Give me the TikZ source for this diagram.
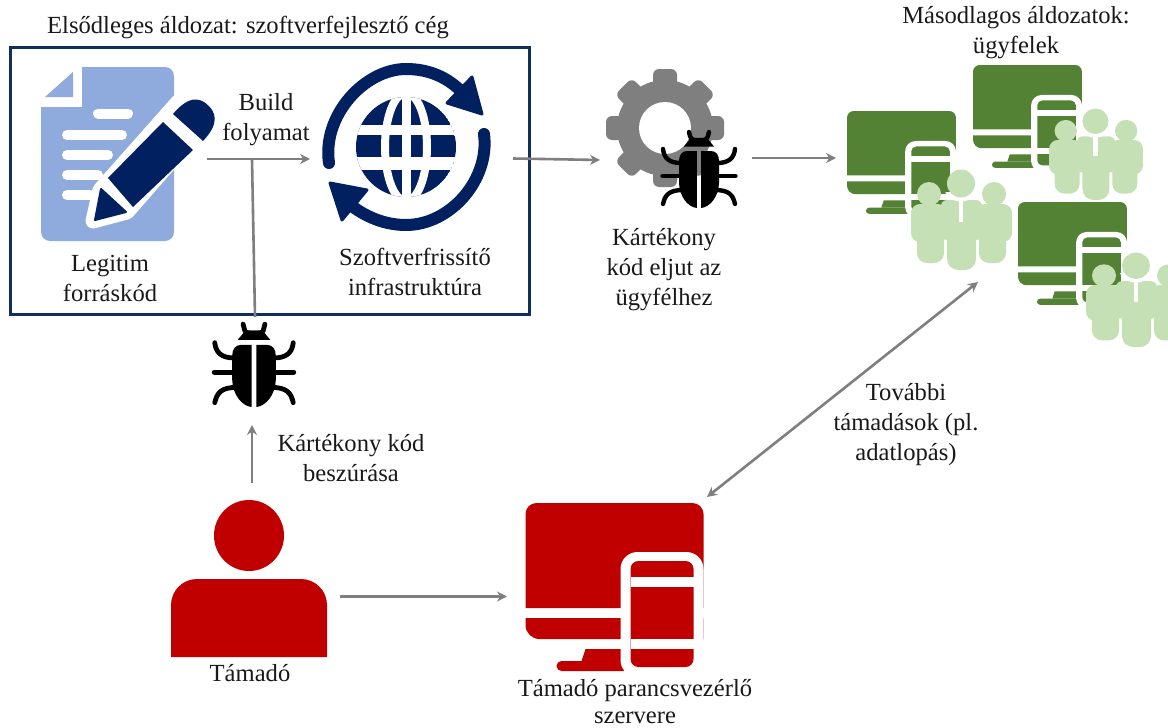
\documentclass[tikz,border=0pt]{standalone}
\usepackage{fontspec}
\setmainfont{Liberation Serif}
\usetikzlibrary{arrows.meta}
\definecolor{navy}{HTML}{0F2F60}
\definecolor{docblue}{HTML}{8FAADC}
\definecolor{dgreen}{HTML}{548235}
\definecolor{lgreen}{HTML}{C5E0B4}
\definecolor{atkred}{HTML}{C00000}
\definecolor{linegray}{HTML}{7F7F7F}
\definecolor{iconnavy}{HTML}{002060}
\tikzset{
  lbl/.style={align=center,inner sep=0pt,font=\fontsize{24.6}{30}\selectfont,text=black!90},
  conn/.style={draw=linegray,line width=2.6pt},
  arrowconn/.style={conn,-{Stealth[length=10pt,width=10pt]}},
  biconn/.style={conn,{Stealth[length=10pt,width=10pt]}-{Stealth[length=10pt,width=10pt]}}
}
\newcommand\monitorIcon[4]{%
\begin{scope}[shift={(#1,#2)},scale=#3]
 \fill[#4] (0,105) [rounded corners=#3*11pt] -- (0,0) -- (178,0) [sharp corners] -- (178,105) -- cycle;
 \fill[#4] (0,115) -- (178,115) -- (178,136) [rounded corners=#3*14pt] -- (0,136) [sharp corners] -- (0,115) -- cycle;
 \fill[#4] (56,158) -- (60,146) -- (100,146) -- (100,158) -- cycle;
 \fill[#4,rounded corners=#3*5pt] (31,158) rectangle (103,168);
 \fill[white,rounded corners=#3*17pt] (95,49) rectangle (178,174);
 \fill[#4,rounded corners=#3*8pt] (105,58) rectangle (168,164);
 \fill[white] (105,74) rectangle (168,84);
 \fill[white] (105,136) rectangle (168,146);
\end{scope}}
\newcommand\peopleIcon[4]{%
\begin{scope}[shift={(#1,#2)},xscale=#3,yscale=#4]
 \begin{scope}[lgreen]
 \fill[rounded corners=9pt] (0,34) rectangle (36,72);
 \fill[rounded corners=10pt] (6,50) rectangle (33,93);
 \fill[rounded corners=9pt] (65,34) rectangle (101,72);
 \fill[rounded corners=10pt] (68,50) rectangle (95,93);
 \fill[rounded corners=6pt] (30,30) rectangle (71,70);
 \fill[rounded corners=11pt] (36,50) rectangle (65,100);
 \end{scope}
 \begin{scope}
  \clip (20,22) rectangle (80,40);
  \fill[white] (50,13.5) circle[radius=18];
 \end{scope}
 \fill[white] (47.7,26) rectangle (52.3,52);
 \fill[lgreen] (50,13.5) circle[radius=14];
 \fill[lgreen] (18,24) circle[radius=12];
 \fill[lgreen] (83,24) circle[radius=12];
\end{scope}}
\newcommand\bugIcon[3]{%
\begin{scope}[shift={(#1,#2)},scale=#3,black]
 \fill (-15,16.5) -- (-8,8) -- (8,8) -- (15,16.5) -- cycle;
 \draw[line width=#3*4.4pt,line cap=round] (-10,2) -- (-9,6) .. controls (-8.5,9) and (-7,10) .. (-4,10) -- (4,10) .. controls (7,10) and (8.5,9) .. (9,6) -- (10,2);
 \fill (-2.2,21) -- (-12,21) .. controls (-17,21) and (-20,25) .. (-20,31) -- (-20,53) .. controls (-19.5,67) and (-11,77) .. (-2.2,78) -- cycle;
 \fill (2.2,21) -- (12,21) .. controls (17,21) and (20,25) .. (20,31) -- (20,53) .. controls (19.5,67) and (11,77) .. (2.2,78) -- cycle;
 \foreach \sgn in {-1,1}{
  \draw[line width=#3*4.4pt,line cap=round] (\sgn*36,19) .. controls (\sgn*35,28) and (\sgn*30,33) .. (\sgn*18,33);
  \draw[line width=#3*4.4pt,line cap=round] (\sgn*36.5,46) -- (\sgn*18,46);
  \draw[line width=#3*4.4pt,line cap=round] (\sgn*36,74) .. controls (\sgn*34,65) and (\sgn*30,60) .. (\sgn*16,60);
 }
\end{scope}}
\begin{document}
\begin{tikzpicture}[x=1pt,y=-1pt]
\useasboundingbox (0,0) rectangle (1168,728);
\clip (0,0) rectangle (1168,728);
\fill[white] (0,0) rectangle (1168,728);

% primary victim frame
\node[draw=navy,line width=2.8pt,minimum width=519pt,minimum height=267pt,inner sep=0pt,anchor=north west] (frame) at (9,46) {};

% source document
\fill[docblue] (41,107) -- (82,107) -- (82,67) [rounded corners=9pt] -- (174,67) -- (174,241) -- (41,241) [sharp corners] -- cycle;
\fill[docblue] (73,72) -- (73,97) -- (45,97) -- cycle;
\begin{scope}[white,line cap=round,line width=10pt]
 \draw (98,113.5) -- (128,113.5);
 \draw (67,135) -- (122,135);
 \draw (67,155) -- (108,155);
 \draw (67,175) -- (98,175);
 \draw (67,195) -- (90,195);
\end{scope}
\fill[white,draw=white,line width=15pt,line join=round] (203,125) -- (178,102) -- (100,190) -- (93,221) -- (127,212) -- cycle;
\fill[iconnavy] (163,122) -- (193,150) -- (133,207) -- (108,178) -- cycle;
\fill[iconnavy] (173,114) .. controls (184,101) and (194,96) .. (204,102) .. controls (218,112) and (219,124) .. (203,141) -- cycle;
\fill[iconnavy,draw=iconnavy,line width=2pt,line join=round] (101,189) -- (126,212) -- (95,220) -- cycle;

% update infrastructure
\draw[iconnavy,line width=12pt,line cap=round] (329,163) .. controls (322,115) and (365,69) .. (406,69) .. controls (430,69) and (448,78) .. (462,92);
\draw[iconnavy,line width=12pt,line cap=round] (484,134) .. controls (490,180) and (450,225) .. (406,225) .. controls (385,225) and (365,217) .. (348,203);
\fill[iconnavy,draw=iconnavy,line width=3pt,line join=round] (472,77) -- (482,114) -- (447,103) -- cycle;
\fill[iconnavy,draw=iconnavy,line width=3pt,line join=round] (330,183) -- (367,190) -- (342,220) -- cycle;
\begin{scope}
 \clip (406,147) circle[radius=50];
 \fill[iconnavy] (406,147) circle[radius=50];
 \draw[white,line width=8pt] (406,147) ellipse[x radius=21,y radius=54];
 \fill[white] (401.5,90) rectangle (410.5,200);
 \fill[white] (350,125) rectangle (460,135);
 \fill[white] (350,157) rectangle (460,170);
\end{scope}

% gear with bug
\foreach \a in {0,45,...,315}{
 \fill[linegray,rounded corners=6pt,rotate around={\a:(665,128)}] (653,69) rectangle (677,128);
}
\fill[linegray] (665,128) circle[radius=48];
\fill[white] (665,128) circle[radius=26];
\bugIcon{699}{130}{1}

% injected bug
\bugIcon{254}{322}{1.09}

% attacker
\fill[atkred] (249,535.5) ellipse[x radius=35,y radius=35.5];
\fill[atkred] (171,657) [rounded corners=26pt] -- (171,579) -- (327,579) [sharp corners] -- (327,657) -- cycle;

% monitors and people
\monitorIcon{525.5}{503}{1}{atkred}
\monitorIcon{847}{111}{0.612}{dgreen}
\monitorIcon{973}{65}{0.612}{dgreen}
\monitorIcon{1018}{202}{0.612}{dgreen}
\peopleIcon{911}{170}{1}{1}
\peopleIcon{1049}{109}{0.93}{0.91}
\peopleIcon{1086}{253}{1}{0.94}

% texts
\node[lbl] (t1) at (248,27) {Elsődleges áldozat: szoftverfejlesztő cég};
\node[lbl] (t2) at (110,278) {Legitim\\forráskód};
\node[lbl] (t3) at (266,120) {Build\\folyamat};
\node[lbl] (t4) at (415,272) {Szoftverfrissítő\\infrastruktúra};
\node[lbl] (t5) at (664,270) {Kártékony\\kód eljut az\\ügyfélhez};
\node[lbl] (t6) at (1016,33) {Másodlagos áldozatok:\\ügyfelek};
\node[lbl] (t7) at (351,458) {Kártékony kód\\beszúrása};
\node[lbl] (t8) at (906,425) {További\\támadások (pl.\\adatlopás)};
\node[lbl] (t9) at (250,673) {Támadó};
\node[lbl] (t10) at (635,702) {Támadó parancsvezérlő\\[-3pt]szervere};

% connector ends
\coordinate (buildS) at (207,159);
\coordinate (buildE) at (310,159);
\coordinate (joinT) at (252,159);
\coordinate (joinB) at (255,317);
\coordinate (updS) at (513,158.5);
\coordinate (updE) at (600,160);
\coordinate (gearS) at (752,158);
\coordinate (gearE) at (836,158);
\coordinate (atkU) at (252,483);
\coordinate (bugD) at (252,425);
\coordinate (atkR) at (340,596.5);
\coordinate (srvL) at (507,596.5);
\coordinate (srvT) at (707,497);
\coordinate (vicB) at (978,282);

\draw[arrowconn] (buildS) -- (buildE);
\draw[conn] (joinT) -- (joinB);
\draw[arrowconn] (updS) -- (updE);
\draw[arrowconn] (gearS) -- (gearE);
\draw[arrowconn] (atkU) -- (bugD);
\draw[arrowconn] (atkR) -- (srvL);
\draw[biconn] (srvT) -- (vicB);
\end{tikzpicture}
\end{document}
